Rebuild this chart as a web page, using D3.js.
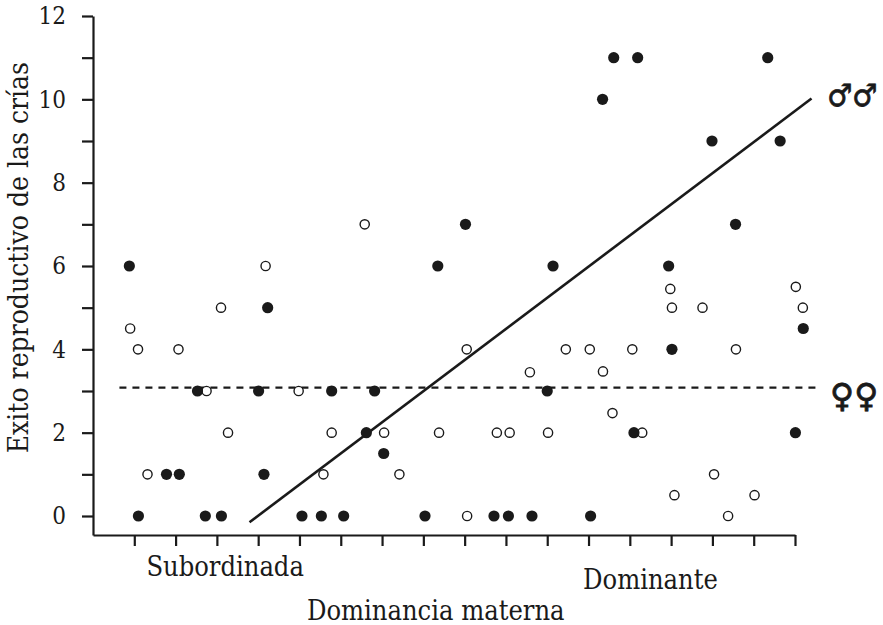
<!DOCTYPE html>
<html>
<head>
<meta charset="utf-8">
<script src="https://cdn.jsdelivr.net/npm/d3@7"></script>
<style>
  html, body { margin: 0; padding: 0; background: #fff; }
  svg { display: block; }
  .serif { font-family: "DejaVu Serif Condensed", "DejaVu Serif", serif; font-stretch: condensed; fill: #1a1a1a; }
</style>
</head>
<body>
<svg id="chart" width="883" height="625"></svg>
<script>
// ---- data (x = position along maternal-dominance axis, tick units; y = offspring reproductive success)
const maleX = [-0.12, 0.10, 0.78, 1.09, 1.53, 1.72, 2.11, 3.01, 3.23, 3.14, 4.06, 4.53, 4.78, 5.07, 5.62, 5.82, 6.04,
               7.04, 7.35, 8.02, 8.71, 9.06, 9.63, 10.00, 10.14, 11.05, 11.34, 11.61, 12.19, 12.10, 12.94, 13.02,
               13.99, 14.56, 15.34, 15.64, 16.01, 16.20];
const maleY = [6, 0, 1, 1, 3, 0, 0, 3, 5, 1, 0, 0, 3, 0, 2, 3, 1.5,
               0, 6, 7, 0, 0, 0, 3, 6, 0, 10, 11, 11, 2, 6, 4,
               9, 7, 11, 9, 2, 4.5];
const femaleX = [-0.10, 0.09, 0.32, 1.07, 1.75, 2.10, 2.27, 3.18, 3.98, 4.58, 4.78, 5.58, 6.05, 6.42, 7.38, 8.05,
                 8.06, 8.78, 9.09, 9.58, 10.02, 10.45, 11.03, 11.35, 11.58, 12.06, 12.30, 12.98, 13.02, 13.08,
                 13.76, 14.04, 14.38, 14.57, 15.02, 16.02, 16.19];
const femaleY = [4.5, 4, 1, 4, 3, 5, 2, 6, 3, 1, 2, 7, 2, 1, 2, 4,
                 0, 2, 2, 3.45, 2, 4, 4, 3.47, 2.47, 4, 2, 5.45, 5, 0.5,
                 5, 1, 0, 4, 0.5, 5.5, 5];
// fitted lines
const maleLineX = [2.79, 16.4];
const maleLineY = [-0.15, 10.02];
const femaleLineX = [-0.36, 16.53];
const femaleLineY = [3.08, 3.08];
// axis ticks / labels
const xTicks = d3.range(0, 17);
const yTicks = d3.range(0, 13);
const yLabelTicks = [0, 2, 4, 6, 8, 10, 12];
const xCategoryLabels = [{ text: "Subordinada", x: 2.2, y: -1.45 }, { text: "Dominante", x: 12.5, y: -1.75 }];
const xTitle = "Dominancia materna";
const yTitle = "Exito reproductivo de las crías";
const maleSymbol = "♂♂";
const femaleSymbol = "♀♀";

// ---- scales
const svg = d3.select("#chart");
const x = d3.scaleLinear().domain([-1, 16]).range([93, 795]);
const y = d3.scaleLinear().domain([-0.456, 12]).range([535, 16]);

// ---- axes
const xAxis = svg.append("g")
  .attr("transform", `translate(0,${y(-0.456)})`)
  .call(d3.axisBottom(x).tickValues(xTicks).tickFormat("").tickSize(11).tickSizeOuter(0));
const yAxis = svg.append("g")
  .attr("transform", `translate(${x(-1)},0)`)
  .call(d3.axisLeft(y).tickValues(yTicks).tickSize(11).tickSizeOuter(0).tickPadding(16)
        .tickFormat(d => yLabelTicks.includes(d) ? d : ""));
[xAxis, yAxis].forEach(g => {
  g.selectAll("path.domain").attr("stroke", "#1a1a1a").attr("stroke-width", 2.2);
  g.selectAll(".tick line").attr("stroke", "#1a1a1a").attr("stroke-width", 2.2);
});
yAxis.selectAll(".tick text")
  .attr("class", "serif")
  .style("font-size", "24px");

// ---- fitted lines
const line = d3.line().x(d => x(d[0])).y(d => y(d[1]));
svg.append("path")
  .datum(d3.zip(femaleLineX, femaleLineY))
  .attr("d", line)
  .attr("fill", "none")
  .attr("stroke", "#1a1a1a")
  .attr("stroke-width", 2.2)
  .attr("stroke-dasharray", "7,6");
svg.append("path")
  .datum(d3.zip(maleLineX, maleLineY))
  .attr("d", line)
  .attr("fill", "none")
  .attr("stroke", "#1a1a1a")
  .attr("stroke-width", 2.6);

// ---- points
svg.append("g").selectAll("circle")
  .data(d3.zip(femaleX, femaleY))
  .join("circle")
  .attr("cx", d => x(d[0])).attr("cy", d => y(d[1]))
  .attr("r", 4.6)
  .attr("fill", "#fff")
  .attr("stroke", "#1a1a1a")
  .attr("stroke-width", 1.4);
svg.append("g").selectAll("circle")
  .data(d3.zip(maleX, maleY))
  .join("circle")
  .attr("cx", d => x(d[0])).attr("cy", d => y(d[1]))
  .attr("r", 5.6)
  .attr("fill", "#1a1a1a");

// ---- sex symbols
svg.append("text")
  .attr("x", x(16.78)).attr("y", y(9.85))
  .style("font-family", "'DejaVu Sans', sans-serif")
  .style("font-weight", "bold")
  .style("font-size", "31px")
  .attr("textLength", 50)
  .attr("lengthAdjust", "spacingAndGlyphs")
  .attr("fill", "#1a1a1a")
  .attr("stroke", "#1a1a1a")
  .attr("stroke-width", 0.8)
  .text(maleSymbol);
svg.append("text")
  .attr("x", x(16.85)).attr("y", y(2.62))
  .style("font-family", "'DejaVu Sans', sans-serif")
  .style("font-weight", "bold")
  .style("font-size", "33px")
  .attr("fill", "#1a1a1a")
  .attr("stroke", "#1a1a1a")
  .attr("stroke-width", 0.8)
  .text(femaleSymbol);

// ---- labels
svg.append("g").selectAll("text")
  .data(xCategoryLabels)
  .join("text")
  .attr("class", "serif")
  .attr("x", d => x(d.x)).attr("y", d => y(d.y))
  .attr("text-anchor", "middle")
  .style("font-size", "27px")
  .text(d => d.text);
svg.append("text")
  .attr("class", "serif")
  .attr("x", x(7.3)).attr("y", 620)
  .attr("text-anchor", "middle")
  .style("font-size", "27px")
  .text(xTitle);
svg.append("text")
  .attr("class", "serif")
  .attr("transform", `translate(28,${y(6.2)}) rotate(-90)`)
  .attr("text-anchor", "middle")
  .style("font-size", "28px")
  .text(yTitle);
</script>
</body>
</html>
